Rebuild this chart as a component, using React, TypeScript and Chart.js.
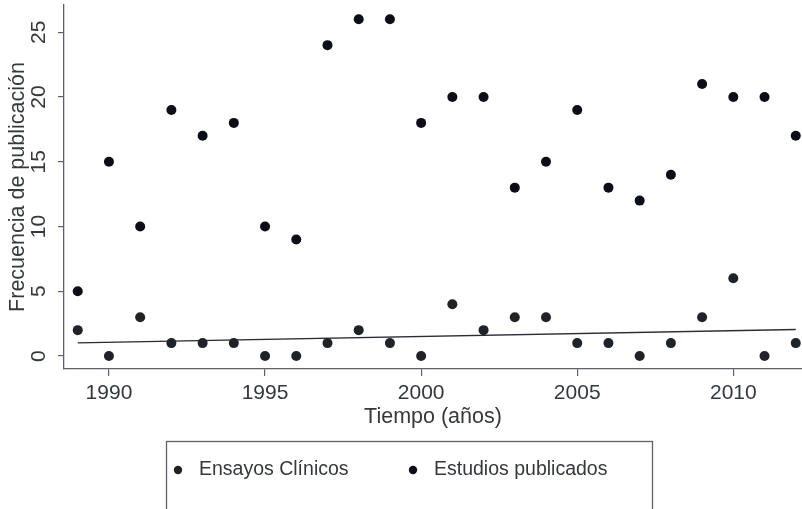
import React, { useEffect, useRef } from "react";
import { Chart, registerables } from "chart.js";

Chart.register(...registerables);

// ---- data ----
const years = [1989, 1990, 1991, 1992, 1993, 1994, 1995, 1996, 1997, 1998, 1999, 2000,
  2001, 2002, 2003, 2004, 2005, 2006, 2007, 2008, 2009, 2010, 2011, 2012];
const ensayosClinicos = [2, 0, 3, 1, 1, 1, 0, 0, 1, 2, 1, 0, 4, 2, 3, 3, 1, 1, 0, 1, 3, 6, 0, 1];
const estudiosPublicados = [5, 15, 10, 19, 17, 18, 10, 9, 24, 26, 26, 18, 20, 20, 13, 15, 19, 13, 12, 14, 21, 20, 20, 17];
const trendYears = [1989, 2012];
const trendValues = [1.02, 2.05];
const xTickValues = [1990, 1995, 2000, 2005, 2010];
const yTickValues = [0, 5, 10, 15, 20, 25];
const seriesLabels = ["Ensayos Clínicos", "Estudios publicados"];
const xTitle = "Tiempo (años)";
const yTitle = "Frecuencia de publicación";

// ---- styles ----
const FONT = "'Liberation Sans', Arial, Helvetica, sans-serif";
const TEXT = "#35383d";
const AXIS = "#5d6168";
const C_ENSAYOS = "#1f2328";
const C_ESTUDIOS = "#0b0e17";

const boxLegend = {
  id: "boxLegend",
  afterDraw(chart: any) {
    const ctx = chart.ctx;
    ctx.save();
    ctx.strokeStyle = AXIS;
    ctx.lineWidth = 1.3;
    ctx.strokeRect(166.5, 441.5, 486, 90);
    const items = [
      { ds: 0, mx: 178, tx: 199 },
      { ds: 1, mx: 413, tx: 434 },
    ];
    ctx.font = `19.5px ${FONT}`;
    ctx.textBaseline = "middle";
    ctx.textAlign = "left";
    items.forEach((it) => {
      const ds = chart.data.datasets[it.ds];
      ctx.fillStyle = ds.backgroundColor;
      ctx.beginPath();
      ctx.arc(it.mx, 470, 4.2, 0, Math.PI * 2);
      ctx.fill();
      ctx.fillStyle = TEXT;
      ctx.fillText(ds.label, it.tx, 470);
    });
    ctx.restore();
  },
};

export default function App() {
  const ref = useRef<HTMLCanvasElement>(null);

  useEffect(() => {
    if (!ref.current) return;
    const chart = new Chart(ref.current, {
      type: "scatter",
      data: {
        datasets: [
          {
            label: seriesLabels[0],
            data: years.map((y, i) => ({ x: y, y: ensayosClinicos[i] })),
            backgroundColor: C_ENSAYOS,
            borderColor: C_ENSAYOS,
            pointRadius: 5,
            borderWidth: 0,
            clip: false,
          },
          {
            label: seriesLabels[1],
            data: years.map((y, i) => ({ x: y, y: estudiosPublicados[i] })),
            backgroundColor: C_ESTUDIOS,
            borderColor: C_ESTUDIOS,
            pointRadius: 5,
            borderWidth: 0,
            clip: false,
          },
          {
            type: "line",
            label: "Ajuste",
            data: trendYears.map((y, i) => ({ x: y, y: trendValues[i] })),
            borderColor: "#2a2d33",
            borderWidth: 1.4,
            pointRadius: 0,
            fill: false,
          } as any,
        ],
      },
      options: {
        animation: false,
        responsive: false,
        maintainAspectRatio: false,
        layout: { autoPadding: false, padding: { top: 5, right: 0, left: 0, bottom: 0 } },
        plugins: { legend: { display: false }, tooltip: { enabled: false } },
        scales: {
          x: {
            type: "linear",
            min: 1988.56,
            max: 2012.2,
            afterFit: (s: any) => {
              s.height = 140;
              s.paddingLeft = 0;
              s.paddingRight = 0;
            },
            afterBuildTicks: (s: any) => { s.ticks = xTickValues.map((v) => ({ value: v })); },
            grid: { display: true, drawOnChartArea: false, drawTicks: true, tickLength: 7, color: AXIS, lineWidth: 1.2 },
            border: { display: true, color: AXIS, width: 1.3 },
            ticks: {
              color: TEXT,
              font: { family: FONT, size: 21 },
              padding: 5,
              callback: (v: any) => String(v),
            },
            title: {
              display: true,
              text: xTitle,
              color: TEXT,
              font: { family: FONT, size: 21.5 },
              padding: { top: 0, bottom: 79 },
            },
          },
          y: {
            type: "linear",
            min: -1,
            max: 27.1,
            afterFit: (s: any) => {
              s.width = 64;
              s.paddingTop = 0;
              s.paddingBottom = 0;
            },
            afterBuildTicks: (s: any) => { s.ticks = yTickValues.map((v) => ({ value: v })); },
            grid: { display: true, drawOnChartArea: false, drawTicks: true, tickLength: 6, color: AXIS, lineWidth: 1.2 },
            border: { display: true, color: AXIS, width: 1.3 },
            ticks: {
              color: TEXT,
              font: { family: FONT, size: 21 },
              padding: 7,
              minRotation: 90,
              maxRotation: 90,
              crossAlign: "center",
              callback: (v: any) => String(v),
            },
            title: {
              display: true,
              text: yTitle,
              color: TEXT,
              font: { family: FONT, size: 21.5 },
              padding: { top: 5, bottom: 0 },
            },
          },
        },
      },
      plugins: [boxLegend],
    });
    return () => chart.destroy();
  }, []);

  return (
    <div style={{ position: "fixed", left: 0, top: 0, width: 802, height: 509, background: "#fff" }}>
      <canvas ref={ref} width={802} height={509} style={{ display: "block" }} />
    </div>
  );
}
